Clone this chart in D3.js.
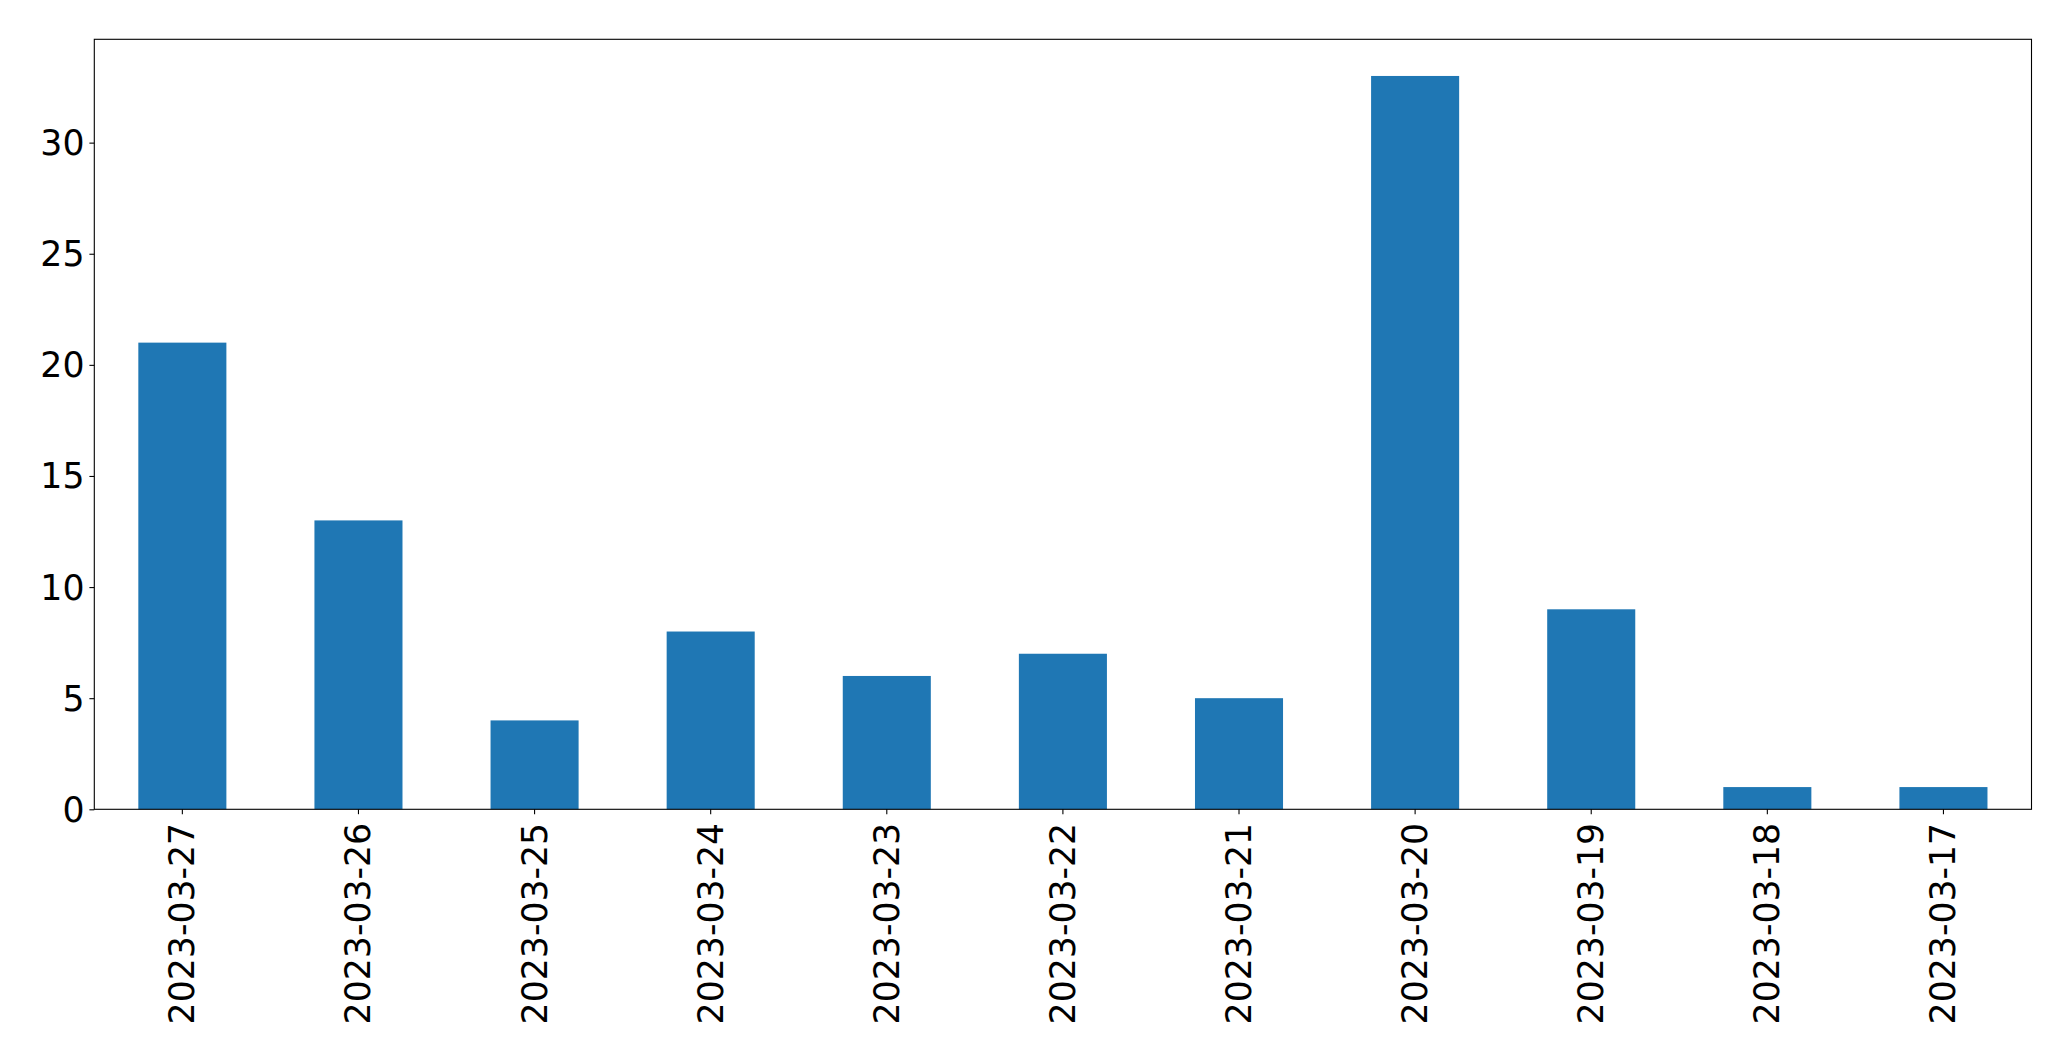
<!DOCTYPE html>
<html><head><meta charset="utf-8">
<script src="https://cdn.jsdelivr.net/npm/d3@7"></script>
<style>body{margin:0;background:#fff;} svg{display:block;}</style>
</head><body>
<script>
const categories = ["2023-03-27","2023-03-26","2023-03-25","2023-03-24","2023-03-23","2023-03-22","2023-03-21","2023-03-20","2023-03-19","2023-03-18","2023-03-17"];
const values = [21, 13, 4, 8, 6, 7, 5, 33, 9, 1, 1];
const yTicks = [0, 5, 10, 15, 20, 25, 30];

(function () {
const W = 2071, H = 1061;
const mLeft = 94.3, mRight = 2031.5, mTop = 39.3, mBottom = 809.3;
const fontSize = 34.7;

const svg = d3.select("body").append("svg").attr("width", W).attr("height", H);

const x = d3.scaleBand().domain(categories).range([mLeft, mRight]).paddingInner(0.5).paddingOuter(0.25);
const y = d3.scaleLinear().domain([0, d3.max(values) * 1.05]).range([mBottom, mTop]);

svg.append("g").selectAll("rect").data(values).join("rect")
  .attr("x", (d, i) => x(categories[i]))
  .attr("width", x.bandwidth())
  .attr("y", d => y(d))
  .attr("height", d => y(0) - y(d))
  .attr("fill", "#1f77b4");

const font = "DejaVu Sans, sans-serif";

const yAxis = svg.append("g").attr("transform", `translate(${mLeft},0)`)
  .call(d3.axisLeft(y).tickValues(yTicks).tickSize(4.9).tickPadding(4.9).tickFormat(d3.format("d")));
yAxis.select(".domain").remove();
yAxis.selectAll("line").attr("stroke", "#000").attr("stroke-width", 1.1);
yAxis.selectAll("text").attr("font-family", font).attr("font-size", fontSize).attr("fill", "#000")
  .attr("dy", null).attr("dominant-baseline", "central");

const xAxis = svg.append("g").attr("transform", `translate(0,${mBottom})`)
  .call(d3.axisBottom(x).tickSize(4.9).tickPadding(0));
xAxis.select(".domain").remove();
xAxis.selectAll("line").attr("stroke", "#000").attr("stroke-width", 1.1);
xAxis.selectAll("text")
  .attr("font-family", font).attr("font-size", fontSize).attr("fill", "#000")
  .attr("text-anchor", "end")
  .attr("dy", null)
  .attr("transform", "translate(0,13.5) rotate(-90)")
  .attr("x", 0).attr("y", 0)
  .attr("dominant-baseline", "central");

svg.append("rect").attr("x", mLeft).attr("y", mTop)
  .attr("width", mRight - mLeft).attr("height", mBottom - mTop)
  .attr("fill", "none").attr("stroke", "#000").attr("stroke-width", 1.1);
})();
</script>
</body></html>
